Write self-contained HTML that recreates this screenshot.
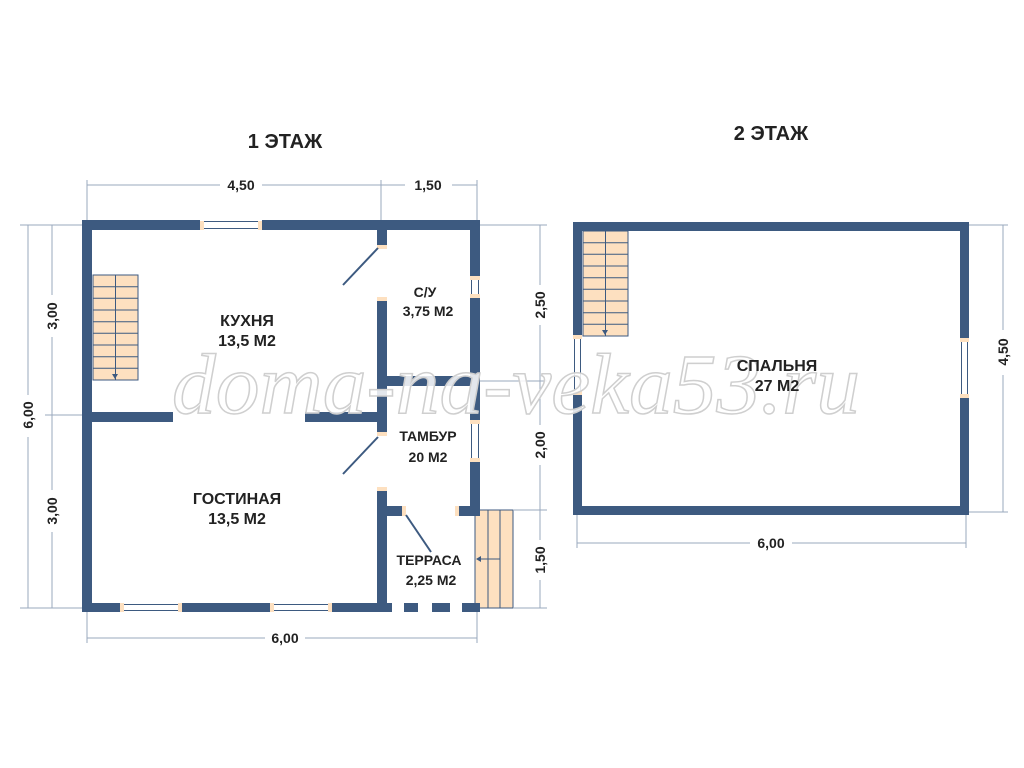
<!DOCTYPE html>
<html><head><meta charset="utf-8"><style>
body{margin:0;background:#fff}
svg{display:block}
text{font-family:"Liberation Sans Narrow","Liberation Sans",sans-serif;font-weight:bold;fill:#222}
</style></head><body>
<svg width="1024" height="768" viewBox="0 0 1024 768">
<g fill="#fde0c0" stroke="#3d5a80" stroke-width="1">
<rect x="93" y="275" width="45" height="105"/>
<line x1="115.5" y1="275" x2="115.5" y2="380"/>
<line x1="93" y1="286.7" x2="138" y2="286.7"/><line x1="93" y1="298.3" x2="138" y2="298.3"/>
<line x1="93" y1="310" x2="138" y2="310"/><line x1="93" y1="321.7" x2="138" y2="321.7"/>
<line x1="93" y1="333.3" x2="138" y2="333.3"/><line x1="93" y1="345" x2="138" y2="345"/>
<line x1="93" y1="356.7" x2="138" y2="356.7"/><line x1="93" y1="368.3" x2="138" y2="368.3"/>
<rect x="583" y="231" width="45" height="105"/>
<line x1="605.5" y1="231" x2="605.5" y2="336"/>
<line x1="583" y1="242.7" x2="628" y2="242.7"/><line x1="583" y1="254.3" x2="628" y2="254.3"/>
<line x1="583" y1="266" x2="628" y2="266"/><line x1="583" y1="277.7" x2="628" y2="277.7"/>
<line x1="583" y1="289.3" x2="628" y2="289.3"/><line x1="583" y1="301" x2="628" y2="301"/>
<line x1="583" y1="312.7" x2="628" y2="312.7"/><line x1="583" y1="324.3" x2="628" y2="324.3"/>
<rect x="475" y="510" width="38" height="98"/>
<line x1="488" y1="510" x2="488" y2="608"/><line x1="500" y1="510" x2="500" y2="608"/>
</g>
<g fill="#3d5a80">
<polygon points="112,374 118,374 115,379"/><polygon points="602,330 608,330 605,335"/>
<polygon points="476,559 481,556 481,562"/>
</g>
<line x1="481" y1="559" x2="500" y2="559" stroke="#3d5a80" stroke-width="1"/>

<g fill="#3d5a80">
<rect x="82" y="220" width="118" height="10"/><rect x="262" y="220" width="218" height="10"/>
<rect x="82" y="220" width="10" height="392"/>
<rect x="82" y="603" width="38" height="9"/><rect x="182" y="603" width="88" height="9"/><rect x="332" y="603" width="60" height="9"/>
<rect x="404" y="603" width="14" height="9"/><rect x="432" y="603" width="18" height="9"/><rect x="462" y="603" width="18" height="9"/>
<rect x="470" y="220" width="10" height="56"/><rect x="470" y="298" width="10" height="122"/><rect x="470" y="462" width="10" height="54"/>
<rect x="456" y="506" width="24" height="10"/>
<rect x="82" y="412" width="91" height="10"/><rect x="305" y="412" width="82" height="10"/>
<rect x="377" y="376" width="103" height="10"/>
<rect x="377" y="220" width="10" height="26"/><rect x="377" y="298" width="10" height="134"/>
<rect x="377" y="488" width="10" height="124"/><rect x="377" y="506" width="28" height="10"/>
<rect x="573" y="222" width="396" height="9"/><rect x="573" y="506" width="396" height="9"/>
<rect x="573" y="222" width="9" height="113"/><rect x="573" y="395" width="9" height="120"/>
<rect x="960" y="222" width="9" height="116"/><rect x="960" y="398" width="9" height="117"/>
</g>
<g fill="#fff" stroke="#3d5a80" stroke-width="1">
<rect x="200" y="221.5" width="62" height="7"/><rect x="120" y="604.5" width="62" height="6"/><rect x="270" y="604.5" width="62" height="6"/>
<rect x="471.5" y="276" width="7" height="22"/><rect x="471.5" y="420" width="7" height="42"/>
<rect x="574.5" y="335" width="6" height="60"/><rect x="961.5" y="338" width="6" height="60"/>
</g>
<g fill="#fde0c0">
<rect x="200" y="221" width="4" height="9"/><rect x="258" y="221" width="4" height="9"/>
<rect x="120" y="603" width="4" height="9"/><rect x="178" y="603" width="4" height="9"/>
<rect x="270" y="603" width="4" height="9"/><rect x="328" y="603" width="4" height="9"/>
<rect x="470" y="276" width="10" height="4"/><rect x="470" y="294" width="10" height="4"/>
<rect x="470" y="420" width="10" height="4"/><rect x="470" y="458" width="10" height="4"/>
<rect x="573" y="335" width="9" height="4"/><rect x="573" y="391" width="9" height="4"/>
<rect x="960" y="338" width="9" height="4"/><rect x="960" y="394" width="9" height="4"/>
<rect x="377" y="245" width="10" height="4"/><rect x="377" y="297" width="10" height="4"/>
<rect x="377" y="432" width="10" height="4"/><rect x="377" y="487" width="10" height="4"/>
<rect x="402" y="506" width="4" height="10"/><rect x="455" y="506" width="4" height="10"/>
</g>
<g stroke="#3d5a80" stroke-width="2">
<line x1="378" y1="248" x2="343" y2="285"/><line x1="378" y1="437" x2="343" y2="474"/><line x1="406" y1="515" x2="431" y2="552"/>
</g>
<g stroke="#9aa8bd" stroke-width="1" fill="none">
<line x1="87" y1="185" x2="220" y2="185"/><line x1="262" y1="185" x2="405" y2="185"/><line x1="452" y1="185" x2="477" y2="185"/>
<line x1="87" y1="180" x2="87" y2="220"/><line x1="381" y1="180" x2="381" y2="220"/><line x1="477" y1="180" x2="477" y2="220"/>
<line x1="87" y1="638" x2="265" y2="638"/><line x1="305" y1="638" x2="477" y2="638"/>
<line x1="87" y1="612" x2="87" y2="643"/><line x1="477" y1="612" x2="477" y2="643"/>
<line x1="28" y1="225" x2="28" y2="395"/><line x1="28" y1="437" x2="28" y2="608"/>
<line x1="52" y1="225" x2="52" y2="295"/><line x1="52" y1="337" x2="52" y2="490"/><line x1="52" y1="532" x2="52" y2="608"/>
<line x1="20" y1="225" x2="82" y2="225"/><line x1="20" y1="608" x2="82" y2="608"/><line x1="45" y1="415" x2="82" y2="415"/>
<line x1="540" y1="225" x2="540" y2="285"/><line x1="540" y1="325" x2="540" y2="425"/><line x1="540" y1="465" x2="540" y2="540"/><line x1="540" y1="580" x2="540" y2="608"/>
<line x1="480" y1="225" x2="547" y2="225"/><line x1="480" y1="381" x2="547" y2="381"/><line x1="513" y1="510" x2="547" y2="510"/><line x1="513" y1="608" x2="547" y2="608"/>
<line x1="577" y1="543" x2="750" y2="543"/><line x1="792" y1="543" x2="966" y2="543"/>
<line x1="577" y1="515" x2="577" y2="548"/><line x1="966" y1="515" x2="966" y2="548"/>
<line x1="1003" y1="225" x2="1003" y2="330"/><line x1="1003" y1="375" x2="1003" y2="512"/>
<line x1="969" y1="225" x2="1008" y2="225"/><line x1="969" y1="512" x2="1008" y2="512"/>
</g>

<text x="172" y="413" textLength="688" lengthAdjust="spacingAndGlyphs" style="font-family:'Liberation Serif',serif;font-style:italic;font-weight:normal;font-size:86px;fill:#fff;fill-opacity:0.85;stroke:#cfcfcf;stroke-width:1.5">doma-na-veka53.ru</text>

<g font-size="14" text-anchor="middle">
<text x="241" y="190">4,50</text><text x="428" y="190">1,50</text>
<text x="285" y="643">6,00</text><text x="771" y="548">6,00</text>
<text transform="translate(33,415) rotate(-90)">6,00</text>
<text transform="translate(57,316) rotate(-90)">3,00</text>
<text transform="translate(57,511) rotate(-90)">3,00</text>
<text transform="translate(545,305) rotate(-90)">2,50</text>
<text transform="translate(545,445) rotate(-90)">2,00</text>
<text transform="translate(545,560) rotate(-90)">1,50</text>
<text transform="translate(1008,352) rotate(-90)">4,50</text>
</g>
<g text-anchor="middle">
<text x="285" y="148" font-size="20">1 ЭТАЖ</text><text x="771" y="140" font-size="20">2 ЭТАЖ</text>
<g font-size="16">
<text x="247" y="326">КУХНЯ</text><text x="247" y="346">13,5 М2</text>
<text x="237" y="504">ГОСТИНАЯ</text><text x="237" y="524">13,5 М2</text>
<text x="777" y="371">СПАЛЬНЯ</text><text x="777" y="391">27 М2</text>
</g>
<g font-size="14">
<text x="425" y="297">С/У</text><text x="428" y="316">3,75 М2</text>
<text x="428" y="441">ТАМБУР</text><text x="428" y="462">20 М2</text>
<text x="429" y="565">ТЕРРАСА</text><text x="431" y="585">2,25 М2</text>
</g>
</g>
</svg>
</body></html>
